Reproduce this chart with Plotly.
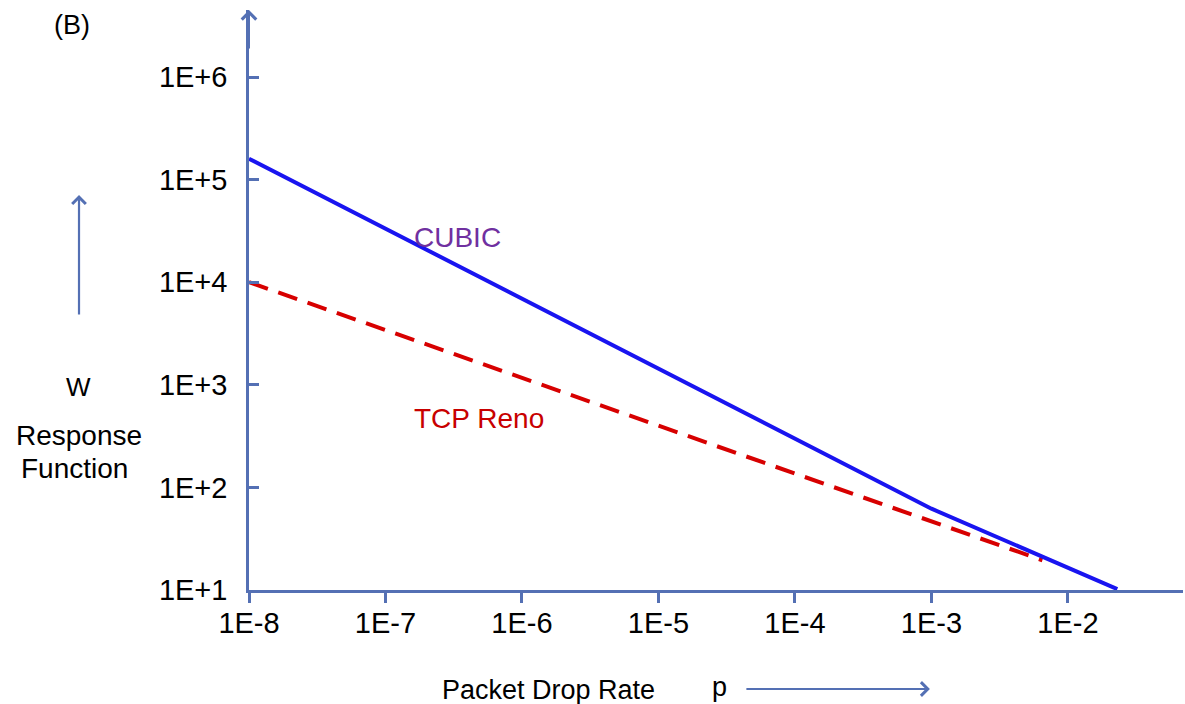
import plotly.graph_objects as go

# ---- data ----
cubic_p = [1e-8, 1e-3, 2.3e-2]
cubic_w = [1.6e5, 62, 10.2]
reno_p = [1e-8, 6.5e-3]
reno_w = [1.0e4, 19.5]

x_tickvals = [1e-8, 1e-7, 1e-6, 1e-5, 1e-4, 1e-3, 1e-2]
x_ticktext = ["1E-8", "1E-7", "1E-6", "1E-5", "1E-4", "1E-3", "1E-2"]
y_tickvals = [1e1, 1e2, 1e3, 1e4, 1e5, 1e6]
y_ticktext = ["1E+1", "1E+2", "1E+3", "1E+4", "1E+5", "1E+6"]

AXIS = "rgb(84,112,180)"
FONT = "Liberation Sans, Arial, sans-serif"

fig = go.Figure()
fig.add_trace(go.Scatter(x=reno_p, y=reno_w, mode="lines",
                         line=dict(color="rgb(215,0,0)", width=4, dash="20px,11px"),
                         hoverinfo="skip", showlegend=False))
fig.add_trace(go.Scatter(x=cubic_p, y=cubic_w, mode="lines",
                         line=dict(color="rgb(25,20,240)", width=4),
                         hoverinfo="skip", showlegend=False))

fig.update_layout(
    width=1185, height=704,
    margin=dict(l=249, r=2, t=10, b=114),
    paper_bgcolor="white", plot_bgcolor="white",
    font=dict(family=FONT, size=27, color="black"),
    showlegend=False,
)
fig.update_xaxes(type="log", range=[-8, -1.157], showgrid=False, zeroline=False,
                 showline=True, linecolor=AXIS, linewidth=2.5,
                 ticks="outside", ticklen=10, tickwidth=2.5, tickcolor=AXIS,
                 tickvals=x_tickvals, ticktext=x_ticktext,
                 tickfont=dict(size=29, color="black"), ticklabelstandoff=-5)
fig.update_yaxes(type="log", range=[1, 6.653], showgrid=False, zeroline=False,
                 showline=True, linecolor=AXIS, linewidth=2.5,
                 ticks="inside", ticklen=10, tickwidth=2.5, tickcolor=AXIS,
                 tickvals=y_tickvals, ticktext=y_ticktext,
                 tickfont=dict(size=29, color="black"), ticklabelstandoff=13)

def txt(text, x, y, color="black", size=27, xanchor="center", xref="paper", yref="paper"):
    fig.add_annotation(text=text, x=x, y=y, xref=xref, yref=yref, showarrow=False,
                       xanchor=xanchor, yanchor="middle",
                       font=dict(family=FONT, size=size, color=color))

txt("(B)", -0.1895, 0.974, size=27)
txt("W", -0.183, 0.35, size=26)
txt("Response", -0.182, 0.267, size=28)
txt("Function", -0.187, 0.210, size=28)
txt("Packet Drop Rate", 0.2045, -0.172, size=27, xanchor="left")
txt("p", 0.504, -0.168, size=27)
txt("CUBIC", -6.476, 4.44, color="rgb(112,48,160)", size=28, xref="x", yref="y")
txt("TCP Reno", -6.315, 2.667, color="rgb(200,0,0)", size=28, xref="x", yref="y")

# y axis arrowhead
fig.add_annotation(x=0, y=1, xref="paper", yref="paper", ax=0, ay=40, axref="pixel", ayref="pixel",
                   text="", showarrow=True, arrowhead=4, arrowsize=1.4, arrowwidth=2, arrowcolor=AXIS)
# left vertical arrow
fig.add_annotation(x=-0.182, y=0.681, xref="paper", yref="paper", ax=0, ay=121,
                   text="", showarrow=True, arrowhead=4, arrowsize=1.2, arrowwidth=2.2, arrowcolor=AXIS)
# bottom horizontal arrow
fig.add_annotation(x=0.729, y=-0.1707, xref="paper", yref="paper", ax=-185, ay=0,
                   text="", showarrow=True, arrowhead=4, arrowsize=1.2, arrowwidth=2.2, arrowcolor=AXIS)

fig.write_html("out.html")
